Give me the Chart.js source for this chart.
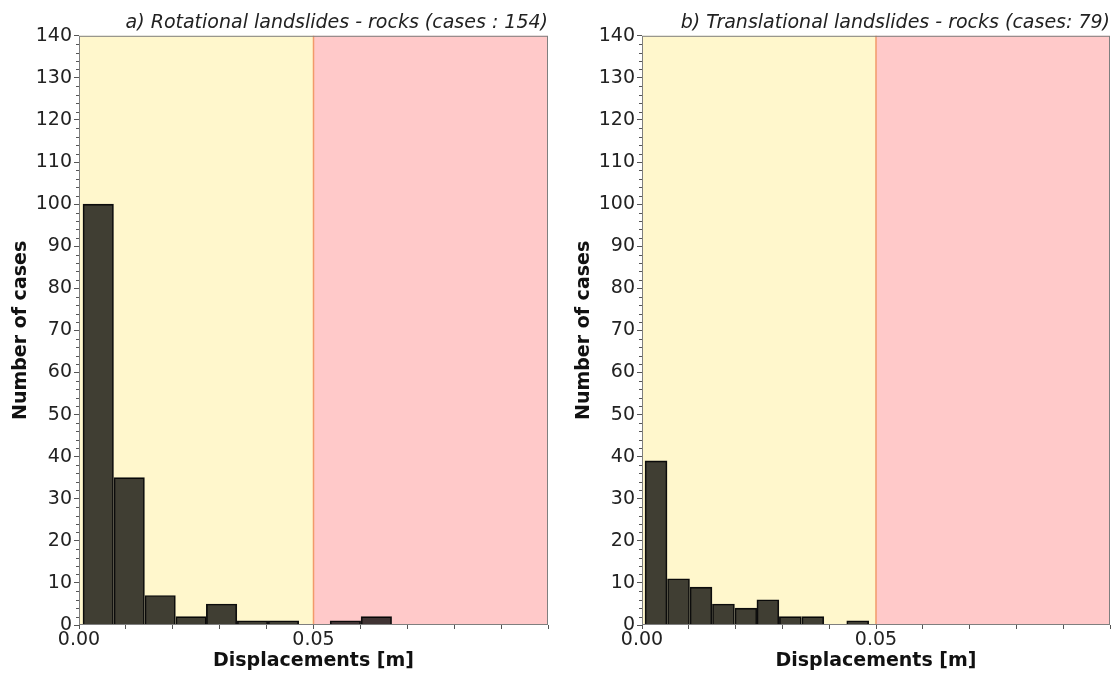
<!DOCTYPE html>
<html lang="en">
<head>
    <meta charset="UTF-8">
    <title>Landslide displacements - rocks</title>
    <script src="https://cdn.jsdelivr.net/npm/chart.js@4.4.1/dist/chart.umd.min.js"></script>
    <style>
        body {
            margin: 0;
            background: #ffffff;
            font-family: 'DejaVu Sans', sans-serif;
        }
        .panel {
            position: absolute;
            top: 0;
            height: 673px;
        }
        #panelA { left: 0; width: 560px; }
        #panelB { left: 563px; width: 550px; }
    </style>
</head>
<body>
    <div class="panel" id="panelA"><canvas id="chartA"></canvas></div>
    <div class="panel" id="panelB"><canvas id="chartB"></canvas></div>

    <script>
        // bin centres [m] and counts
        const rotCenters = [0.0041, 0.0107, 0.0173, 0.0239, 0.0304, 0.0370, 0.0436, 0.0502, 0.0568, 0.0634];
        const rotCounts  = [100, 35, 7, 2, 5, 1, 1, 0, 1, 2];

        const transCenters = [0.0030, 0.0078, 0.0126, 0.0174, 0.0222, 0.0269, 0.0317, 0.0365, 0.0413, 0.0461];
        const transCounts  = [39, 11, 9, 5, 4, 6, 2, 2, 0, 1];

        // zones: stable (yellow) up to 0.05 m, then red
        const zoneEdges = [0, 0.05, 0.1];
        const zoneColors = ['#fff7cc', '#ffc9c9'];
        const xLabelTicks = [0, 0.05];

        const FONT = "'DejaVu Sans', sans-serif";
        const FS = 19;

        // background zones + limit line
        const zonesPlugin = {
            id: 'zones',
            beforeDatasetsDraw(chart) {
                const { ctx, chartArea, scales } = chart;
                ctx.save();
                for (let i = 0; i < zoneColors.length; i++) {
                    const x0 = scales.x.getPixelForValue(zoneEdges[i]);
                    const x1 = scales.x.getPixelForValue(zoneEdges[i + 1]);
                    ctx.fillStyle = zoneColors[i];
                    ctx.fillRect(x0, chartArea.top, x1 - x0, chartArea.bottom - chartArea.top);
                }
                const xl = scales.x.getPixelForValue(zoneEdges[1]);
                ctx.strokeStyle = '#f29a6a';
                ctx.lineWidth = 1.5;
                ctx.beginPath();
                ctx.moveTo(xl, chartArea.top);
                ctx.lineTo(xl, chartArea.bottom);
                ctx.stroke();
                ctx.restore();
            },
            afterDatasetsDraw(chart) {
                const { ctx, chartArea, scales } = chart;
                ctx.save();
                // frame
                ctx.strokeStyle = '#7f7f7f';
                ctx.lineWidth = 1;
                ctx.strokeRect(chartArea.left + 0.5, chartArea.top + 0.5,
                    chartArea.right - chartArea.left - 1, chartArea.bottom - chartArea.top - 1);
                // minor y ticks
                ctx.strokeStyle = '#555';
                ctx.beginPath();
                for (let v = 2; v < 140; v += 2) {
                    if (v % 10 === 0) continue;
                    const y = Math.round(scales.y.getPixelForValue(v)) + 0.5;
                    ctx.moveTo(chartArea.left, y);
                    ctx.lineTo(chartArea.left - 3, y);
                }
                ctx.stroke();
                ctx.restore();
            }
        };

        function makeChart(id, title, centers, counts, rightPad) {
            new Chart(document.getElementById(id), {
                type: 'bar',
                data: {
                    datasets: [{
                        data: centers.map((c, i) => ({ x: c, y: counts[i] })),
                        backgroundColor: 'rgba(0, 0, 0, 0.75)',
                        borderColor: '#111',
                        borderWidth: 1,
                        barPercentage: 1.0,
                        categoryPercentage: 1.0
                    }]
                },
                options: {
                    responsive: true,
                    maintainAspectRatio: false,
                    animation: false,
                    layout: { padding: { left: 0, right: rightPad, top: 0, bottom: 0 } },
                    plugins: {
                        legend: { display: false },
                        tooltip: { enabled: false },
                        title: {
                            display: true,
                            text: title,
                            align: 'end',
                            color: '#222',
                            font: { family: FONT, size: FS, style: 'italic', weight: 'normal', lineHeight: 1.2 },
                            padding: { top: 12, bottom: 1 }
                        }
                    },
                    scales: {
                        x: {
                            type: 'linear',
                            min: 0,
                            max: 0.1,
                            offset: false,
                            grid: { offset: false, drawOnChartArea: false, drawTicks: true, tickLength: 4, color: '#555' },
                            border: { display: false },
                            ticks: {
                                stepSize: 0.01,
                                autoSkip: false,
                                maxRotation: 0,
                                padding: 0,
                                color: '#222',
                                font: { family: FONT, size: FS },
                                callback: (v) => xLabelTicks.some(t => Math.abs(t - v) < 1e-9) ? v.toFixed(2) : ''
                            },
                            title: {
                                display: true,
                                text: 'Displacements [m]',
                                color: '#111',
                                font: { family: FONT, size: FS, weight: 'bold' },
                                padding: { top: 0, bottom: 1 }
                            },
                            afterFit: (s) => { s.height = 48; }
                        },
                        y: {
                            min: 0,
                            max: 140,
                            grid: { drawOnChartArea: false, drawTicks: true, tickLength: 5, color: '#555' },
                            border: { display: false },
                            ticks: {
                                stepSize: 10,
                                padding: 2,
                                color: '#222',
                                font: { family: FONT, size: FS }
                            },
                            title: {
                                display: true,
                                text: 'Number of cases',
                                color: '#111',
                                font: { family: FONT, size: FS, weight: 'bold' },
                                padding: { top: 10, bottom: 0 }
                            },
                            afterFit: (s) => { s.width = 79; }
                        }
                    }
                },
                plugins: [zonesPlugin]
            });
        }

        makeChart('chartA', 'a) Rotational landslides - rocks (cases : 154)', rotCenters, rotCounts, 12);
        makeChart('chartB', 'b) Translational landslides - rocks (cases: 79)', transCenters, transCounts, 3);
    </script>
</body>
</html>
